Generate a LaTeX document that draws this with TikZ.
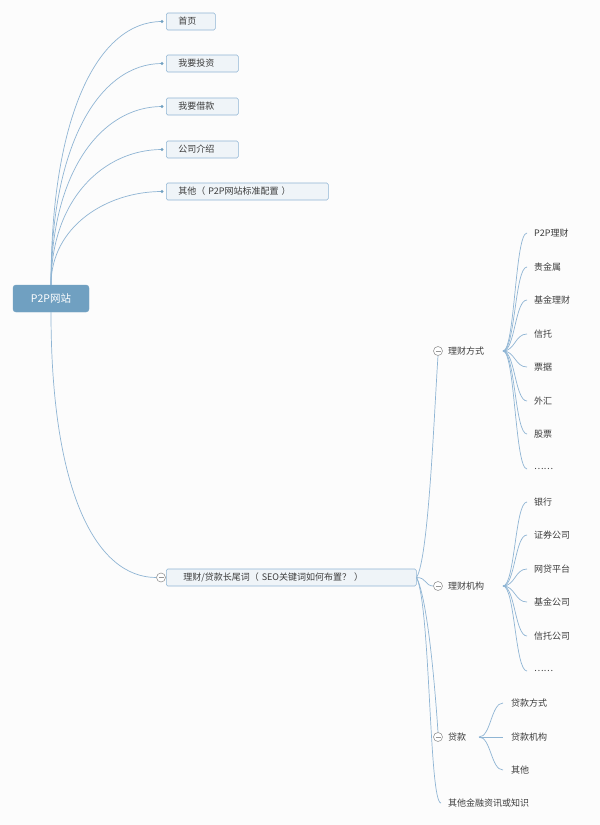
\documentclass[tikz,border=0pt]{standalone}
\usepackage{fontspec}
\setmainfont{Noto Sans CJK SC}
\usetikzlibrary{calc}
\definecolor{linec}{RGB}{143,181,212}
\definecolor{rootc}{RGB}{112,160,193}
\definecolor{boxfill}{RGB}{239,244,248}
\definecolor{boxdraw}{RGB}{143,181,212}
\definecolor{txt}{RGB}{60,60,60}
\definecolor{bg}{RGB}{252,252,252}
\definecolor{circc}{RGB}{150,150,150}
\begin{document}
\begin{tikzpicture}[x=1pt,y=-1pt,
 every node/.style={font=\fontsize{9}{11}\selectfont, text=txt},
 rootbox/.style={draw=rootc, fill=rootc, rounded corners=3pt, minimum width=76pt, minimum height=27pt, inner sep=0pt, text=white, font=\fontsize{10.5}{12}\selectfont},
 topicbox/.style={draw=boxdraw, fill=boxfill, rounded corners=1.5pt, minimum height=17pt, inner ysep=0pt, anchor=west, align=left, line width=0.6pt},
 leaf/.style={anchor=west, inner xsep=7pt, inner ysep=1pt},
 conn/.style={draw=linec, line width=0.7pt},
 collapse/.style={circle, draw=circc, fill=white, minimum size=9pt, inner sep=0pt, line width=0.6pt,
   path picture={\draw[circc, line width=0.6pt] ($(path picture bounding box.west)+(2,0)$) -- ($(path picture bounding box.east)+(-2,0)$);}},
 ]
\fill[bg] (0,0) rectangle (600,825);
\useasboundingbox (0,0) rectangle (600,825);

% root
\node[rootbox] (root) at (51,298.5) {P2P网站};

% first level
\node[topicbox, inner xsep=12pt, text width=25pt] (n1) at (166,21.5) {首页};
\node[topicbox, inner xsep=12pt, text width=48pt] (n2) at (166,63.5) {我要投资};
\node[topicbox, inner xsep=12pt, text width=48pt] (n3) at (166,106.5) {我要借款};
\node[topicbox, inner xsep=12pt, text width=48pt] (n4) at (166,149.5) {公司介绍};
\node[topicbox, inner xsep=12pt, text width=138pt] (n5) at (166,191.5) {其他（\hspace{3pt}P2P网站标准配置\hspace{3pt}）};
\node[topicbox, inner xsep=17pt, text width=216pt] (n6) at (166,577.5) {理财/贷款长尾词（\hspace{3pt}SEO关键词如何布置？\hspace{3pt}）};

\coordinate (d1) at ($(n1.west)+(-4,0)$);
\coordinate (d2) at ($(n2.west)+(-4,0)$);
\coordinate (d3) at ($(n3.west)+(-4,0)$);
\coordinate (d4) at ($(n4.west)+(-4,0)$);
\coordinate (d5) at ($(n5.west)+(-4,0)$);

\draw[conn] (root.north) .. controls ($(root.north)+(0,-170)$) and ($(d1)+(-64,0)$) .. (d1);
\draw[conn] (root.north) .. controls ($(root.north)+(0,-142)$) and ($(d2)+(-62,0)$) .. (d2);
\draw[conn] (root.north) .. controls ($(root.north)+(0,-114)$) and ($(d3)+(-60,0)$) .. (d3);
\draw[conn] (root.north) .. controls ($(root.north)+(0,-86)$) and ($(d4)+(-58,0)$) .. (d4);
\draw[conn] (root.north) .. controls ($(root.north)+(0,-58)$) and ($(d5)+(-56,0)$) .. (d5);
\foreach \d in {d1,d2,d3,d4,d5} \fill[rootc] (\d) circle (1.6);

% collapse for long-tail topic
\node[collapse] (c0) at (161,577.5) {};
\draw[conn] (root.south) .. controls ($(root.south)+(0,180)$) and ($(c0.west)+(-60,0)$) .. (c0.west);

% second level
\node[collapse] (c1) at (438,351) {};
\node[leaf] (t1) at (441,351) {理财方式};
\node[collapse] (c2) at (438,586) {};
\node[leaf] (t2) at (441,586) {理财机构};
\node[collapse] (c3) at (438,737) {};
\node[leaf] (t3) at (441,737) {贷款};
\node[leaf] (t4) at (441,803) {其他金融资讯或知识};

\draw[conn] (n6.east) .. controls ($(n6.east)+(12,-20)$) and ($(c1.south)+(-4,60)$) .. (c1.south);
\draw[conn] (n6.east) .. controls ($(n6.east)+(10,0)$) and ($(c2.west)+(-8,0)$) .. (c2.west);
\draw[conn] (n6.east) .. controls ($(n6.east)+(10,20)$) and ($(c3.north)+(-4,-60)$) .. (c3.north);
\draw[conn] (n6.east) .. controls ($(n6.east)+(14,30)$) and ($(t4.west)+(-12,0)$) .. (t4.west);

% hubs
\coordinate (h1) at (503,351);
\coordinate (h2) at (503,586);
\coordinate (h3) at (479,737);

\foreach \n/\y/\t in {a1/233/P2P理财, a2/267/贵金属, a3/300/基金理财, a4/334/信托, a5/367/票据, a6/401/外汇, a7/434/股票, a8/469/……}{
  \node[leaf] (\n) at (527,\y) {\t};
  \draw[conn] (h1) .. controls ($(h1)+(12,0)$) and ($(\n.west)+(-12,0)$) .. (\n.west);
}
\foreach \n/\y/\t in {b1/502/银行, b2/535/证券公司, b3/569/网贷平台, b4/602/基金公司, b5/636/信托公司, b6/671/……}{
  \node[leaf] (\n) at (527,\y) {\t};
  \draw[conn] (h2) .. controls ($(h2)+(12,0)$) and ($(\n.west)+(-12,0)$) .. (\n.west);
}
\foreach \n/\y/\t in {l1/703/贷款方式, l2/737/贷款机构, l3/770/其他}{
  \node[leaf, inner xsep=8pt] (\n) at (503,\y) {\t};
  \draw[conn] (h3) .. controls ($(h3)+(12,0)$) and ($(\n.west)+(-12,0)$) .. (\n.west);
}
\end{tikzpicture}
\end{document}
